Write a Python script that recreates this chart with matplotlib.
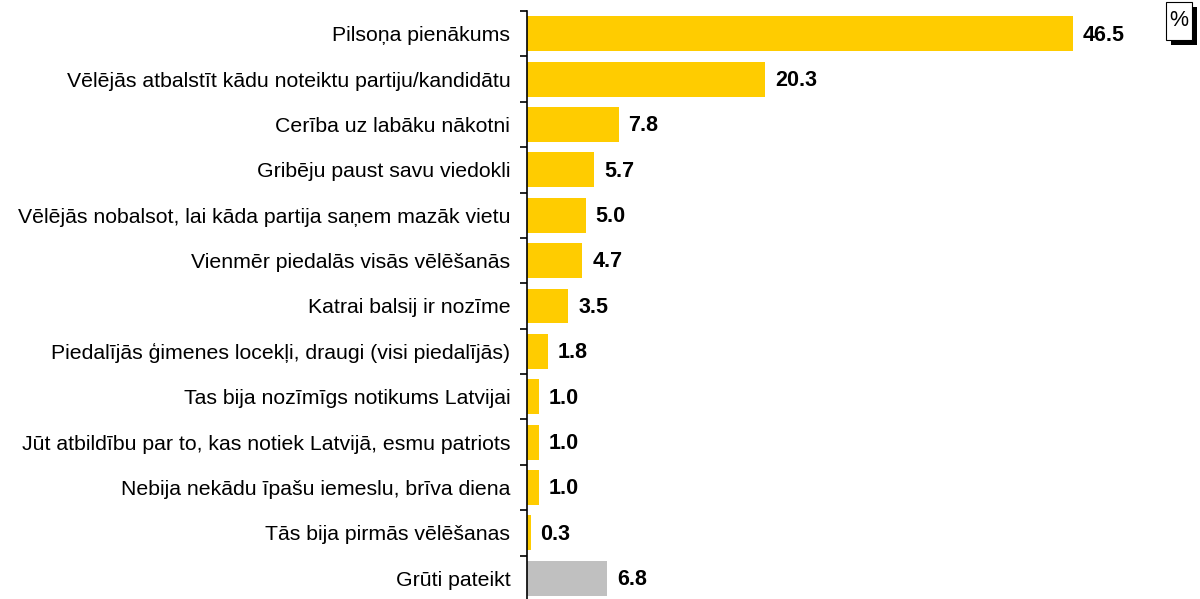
import matplotlib
matplotlib.use("Agg")
import matplotlib.pyplot as plt
from matplotlib.patches import Rectangle

plt.rcParams["font.family"] = ["Liberation Sans", "DejaVu Sans"]

categories = [
    "Pilsoņa pienākums",
    "Vēlējās atbalstīt kādu noteiktu partiju/kandidātu",
    "Cerība uz labāku nākotni",
    "Gribēju paust savu viedokli",
    "Vēlējās nobalsot, lai kāda partija saņem mazāk vietu",
    "Vienmēr piedalās visās vēlēšanās",
    "Katrai balsij ir nozīme",
    "Piedalījās ģimenes locekļi, draugi (visi piedalījās)",
    "Tas bija nozīmīgs notikums Latvijai",
    "Jūt atbildību par to, kas notiek Latvijā, esmu patriots",
    "Nebija nekādu īpašu iemeslu, brīva diena",
    "Tās bija pirmās vēlēšanas",
    "Grūti pateikt",
]
values = [46.5, 20.3, 7.8, 5.7, 5.0, 4.7, 3.5, 1.8, 1.0, 1.0, 1.0, 0.3, 6.8]
colors = ["#FFCC00"] * 12 + ["#C0C0C0"]

W, H = 1200, 599
fig = plt.figure(figsize=(W / 100, H / 100), dpi=100)
left, right, top, bottom = 527, 1150, 11, 601
ax = fig.add_axes([left / W, 1 - bottom / H, (right - left) / W, (bottom - top) / H])

n = len(categories)
ypos = list(range(n))
ax.barh(ypos, values, height=0.77, color=colors, edgecolor="none")
ax.set_ylim(n - 0.5, -0.5)
ax.set_xlim(0, (right - left) / 11.74)

for y, v in zip(ypos, values):
    ax.text(v + 0.85, y + 0.03, f"{v:.1f}", va="center", ha="left",
            fontsize=15.5, fontweight="bold", color="black")

ax.set_yticks(ypos)
ax.set_yticklabels(categories, fontsize=15.3)
ax.tick_params(axis="y", length=0, pad=12)
ax.set_yticks([i - 0.5 for i in range(n + 1)], minor=True)
ax.tick_params(axis="y", which="minor", length=5, width=1.2, color="black")
ax.set_xticks([])
for s in ["top", "right", "bottom"]:
    ax.spines[s].set_visible(False)
ax.spines["left"].set_linewidth(1.2)

# "%" box with shadow
fig.patches.append(Rectangle((1171 / W, 1 - 45 / H), 26 / W, 38 / H,
                             transform=fig.transFigure, facecolor="black",
                             edgecolor="none"))
fig.patches.append(Rectangle((1166 / W, 1 - 40 / H), 26 / W, 38 / H,
                             transform=fig.transFigure, facecolor="white",
                             edgecolor="black", linewidth=0.8))
fig.text(1179 / W, 1 - 21 / H, "%", ha="center", va="center", fontsize=15.5)

fig.savefig("out.png", dpi=100)
